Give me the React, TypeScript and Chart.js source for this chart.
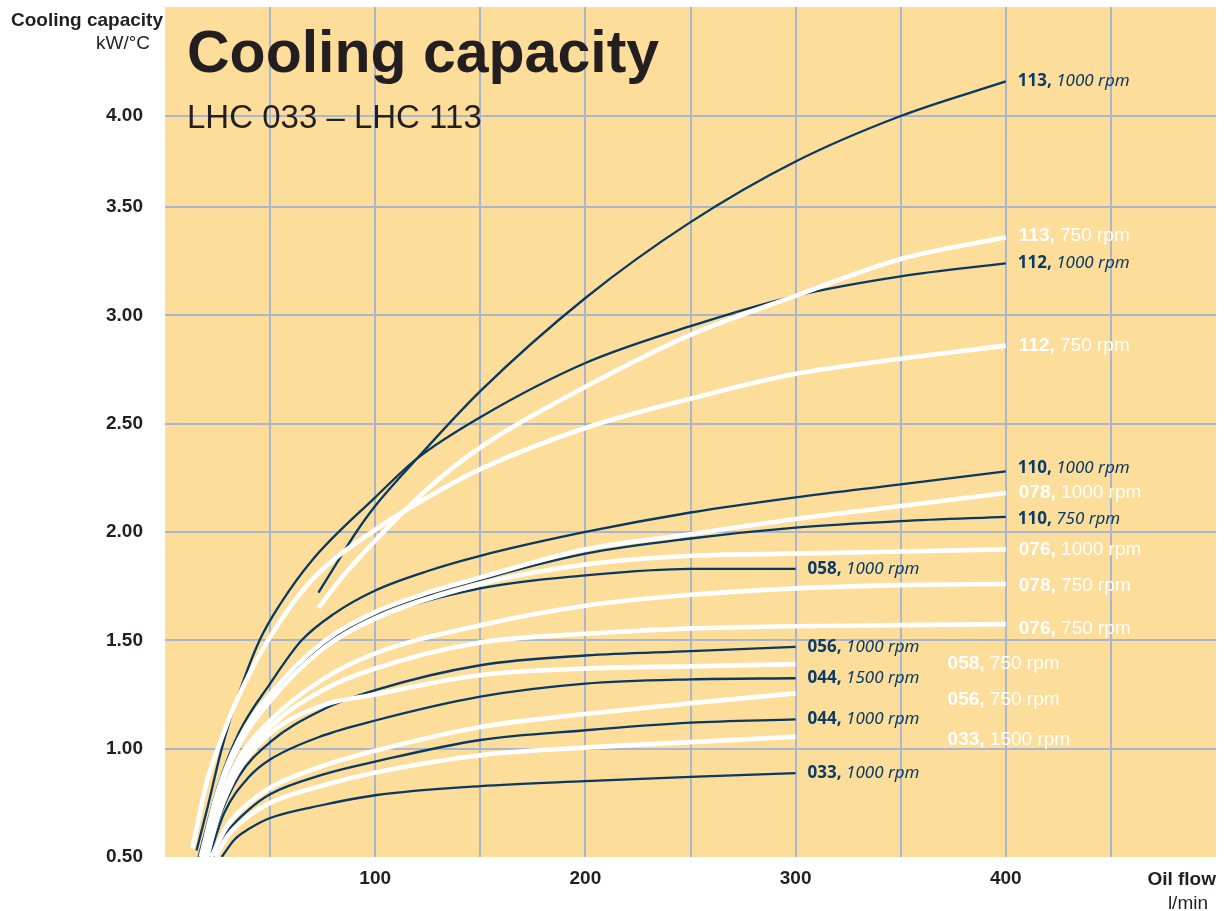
import React, { useEffect, useRef } from 'react';
import { Chart, registerables, LinearScale } from 'chart.js';

Chart.register(...registerables);

// ---- y axis: the reference compresses the band above 3.50 ----
const Y_BREAK = 3.5;
const Y_UPPER_SCALE = 0.84;
const warp = (v: number) => (v != null && v > Y_BREAK ? Y_BREAK + (v - Y_BREAK) * Y_UPPER_SCALE : v);
const unwarp = (v: number) => (v != null && v > Y_BREAK ? Y_BREAK + (v - Y_BREAK) / Y_UPPER_SCALE : v);

class WarpedLinearScale extends LinearScale {
  static id = 'warpedLinear';
  static defaults = {};
  getPixelForValue(value: number, index?: number) {
    return super.getPixelForValue(warp(value) as number, index as any);
  }
  getValueForPixel(pixel: number) {
    return unwarp(super.getValueForPixel(pixel) as number);
  }
}
Chart.register(WarpedLinearScale as any);

// ---- ticks ----
const xTickValues = [0, 50, 100, 150, 200, 250, 300, 350, 400, 450, 500];
const xTickLabels = ['', '', '100', '', '200', '', '300', '', '400', '', ''];
const yTickValues = [0.5, 1.0, 1.5, 2.0, 2.5, 3.0, 3.5, 4.0];
const yTickLabels = ['0.50', '1.00', '1.50', '2.00', '2.50', '3.00', '3.50', '4.00'];

// ---- series (oil flow l/min, cooling capacity kW/°C) ----
const flow113_1000 = [73, 80, 91, 100, 120, 150, 200, 250, 300, 350, 400];
const cap113_1000 = [1.72, 1.83, 2.0, 2.12, 2.34, 2.65, 3.08, 3.43, 3.75, 4.0, 4.19];

const flow113_750 = [73, 85, 100, 125, 150, 200, 250, 300, 350, 400];
const cap113_750 = [1.65, 1.8, 1.96, 2.2, 2.39, 2.67, 2.91, 3.09, 3.26, 3.36];

const flow112_1000 = [15, 20, 27, 35, 45, 55, 70, 100, 120, 150, 200, 250, 300, 350, 400];
const cap112_1000 = [0.53, 0.72, 1.0, 1.25, 1.5, 1.67, 1.87, 2.16, 2.34, 2.53, 2.78, 2.95, 3.09, 3.18, 3.24];

const flow112_750 = [13, 20, 27, 34, 49, 70, 100, 125, 150, 200, 250, 300, 350, 400];
const cap112_750 = [0.54, 0.85, 1.05, 1.22, 1.5, 1.78, 2.01, 2.16, 2.29, 2.48, 2.615, 2.73, 2.8, 2.86];

const flow110_1000 = [16, 25, 35, 50, 65, 80, 100, 125, 150, 200, 250, 300, 350, 400];
const cap110_1000 = [0.5, 0.82, 1.07, 1.3, 1.5, 1.62, 1.73, 1.82, 1.89, 2.0, 2.09, 2.16, 2.22, 2.28];

const flow078_1000 = [17, 25, 35, 50, 75, 100, 125, 150, 200, 250, 300, 350, 400];
const cap078_1000 = [0.5, 0.8, 1.04, 1.25, 1.49, 1.63, 1.72, 1.79, 1.92, 1.99, 2.06, 2.12, 2.18];

const flow110_750 = [18, 25, 35, 50, 75, 100, 125, 150, 200, 250, 300, 350, 400];
const cap110_750 = [0.5, 0.78, 1.02, 1.24, 1.48, 1.62, 1.71, 1.78, 1.9, 1.97, 2.02, 2.05, 2.07];

const flow076_1000 = [18, 25, 35, 50, 75, 100, 150, 200, 250, 300, 350, 400];
const cap076_1000 = [0.5, 0.77, 1.01, 1.22, 1.46, 1.6, 1.76, 1.85, 1.89, 1.9, 1.91, 1.92];

const flow058_1000 = [19, 25, 35, 50, 75, 100, 150, 200, 250, 300];
const cap058_1000 = [0.5, 0.75, 1.0, 1.22, 1.46, 1.6, 1.74, 1.8, 1.83, 1.83];

const flow078_750 = [19, 25, 35, 50, 75, 100, 150, 200, 250, 300, 350, 400];
const cap078_750 = [0.5, 0.72, 0.95, 1.13, 1.32, 1.44, 1.57, 1.66, 1.71, 1.74, 1.755, 1.76];

const flow076_750 = [20, 25, 35, 50, 75, 100, 150, 200, 250, 300, 350, 400];
const cap076_750 = [0.5, 0.7, 0.92, 1.1, 1.27, 1.37, 1.49, 1.53, 1.555, 1.565, 1.57, 1.575];

const flow056_1000 = [20, 25, 35, 50, 75, 100, 150, 200, 250, 300];
const cap056_1000 = [0.5, 0.66, 0.87, 1.03, 1.18, 1.27, 1.385, 1.43, 1.45, 1.47];

const flow058_750 = [20, 25, 35, 50, 75, 100, 150, 200, 250, 300];
const cap058_750 = [0.5, 0.68, 0.9, 1.07, 1.2, 1.25, 1.34, 1.37, 1.38, 1.39];

const flow044_1500 = [21, 28, 40, 50, 75, 100, 150, 200, 250, 300];
const cap044_1500 = [0.5, 0.7, 0.87, 0.95, 1.06, 1.13, 1.24, 1.3, 1.32, 1.325];

const flow056_750 = [22, 30, 40, 50, 75, 100, 150, 200, 250, 300];
const cap056_750 = [0.5, 0.65, 0.75, 0.82, 0.92, 0.99, 1.1, 1.16, 1.21, 1.255];

const flow044_1000 = [23, 30, 40, 50, 75, 100, 150, 200, 250, 300];
const cap044_1000 = [0.5, 0.62, 0.72, 0.79, 0.88, 0.94, 1.04, 1.085, 1.12, 1.135];

const flow033_1500 = [24, 30, 40, 50, 75, 100, 150, 200, 250, 300];
const cap033_1500 = [0.5, 0.6, 0.69, 0.75, 0.83, 0.89, 0.97, 1.005, 1.03, 1.055];

const flow033_1000 = [27, 33, 40, 50, 75, 100, 150, 200, 250, 300];
const cap033_1000 = [0.5, 0.58, 0.63, 0.68, 0.74, 0.785, 0.827, 0.85, 0.87, 0.887];

type Tone = 'navy' | 'white';
interface Series { model: string; rpm: string; tone: Tone; flow: number[]; cap: number[]; }

const series: Series[] = [
  { model: '113', rpm: '1000', tone: 'navy', flow: flow113_1000, cap: cap113_1000 },
  { model: '113', rpm: '750', tone: 'white', flow: flow113_750, cap: cap113_750 },
  { model: '112', rpm: '1000', tone: 'navy', flow: flow112_1000, cap: cap112_1000 },
  { model: '112', rpm: '750', tone: 'white', flow: flow112_750, cap: cap112_750 },
  { model: '110', rpm: '1000', tone: 'navy', flow: flow110_1000, cap: cap110_1000 },
  { model: '078', rpm: '1000', tone: 'white', flow: flow078_1000, cap: cap078_1000 },
  { model: '110', rpm: '750', tone: 'navy', flow: flow110_750, cap: cap110_750 },
  { model: '076', rpm: '1000', tone: 'white', flow: flow076_1000, cap: cap076_1000 },
  { model: '058', rpm: '1000', tone: 'navy', flow: flow058_1000, cap: cap058_1000 },
  { model: '078', rpm: '750', tone: 'white', flow: flow078_750, cap: cap078_750 },
  { model: '076', rpm: '750', tone: 'white', flow: flow076_750, cap: cap076_750 },
  { model: '056', rpm: '1000', tone: 'navy', flow: flow056_1000, cap: cap056_1000 },
  { model: '058', rpm: '750', tone: 'white', flow: flow058_750, cap: cap058_750 },
  { model: '044', rpm: '1500', tone: 'navy', flow: flow044_1500, cap: cap044_1500 },
  { model: '056', rpm: '750', tone: 'white', flow: flow056_750, cap: cap056_750 },
  { model: '044', rpm: '1000', tone: 'navy', flow: flow044_1000, cap: cap044_1000 },
  { model: '033', rpm: '1500', tone: 'white', flow: flow033_1500, cap: cap033_1500 },
  { model: '033', rpm: '1000', tone: 'navy', flow: flow033_1000, cap: cap033_1000 },
];

// ---- styling ----
const BG = '#FDDD9A';
const GRID = '#A9B6CE';
const NAVY = '#0A3860';
const NAVY_TEXT = '#0B3A66';
const INK = '#231F20';
const SANS = '"Liberation Sans", Arial, sans-serif';
const HUMAN = '"Noto Sans", "Open Sans", sans-serif';

// label placement nudges in pixels (gap from line end, vertical shift)
const labelGap = (s: Series, i: number) => {
  if (s.tone === 'white' && s.flow[s.flow.length - 1] === 300) return 152;
  return s.tone === 'white' ? 13 : 12;
};
const labelShift: Record<string, number> = {
  '110-1000': -3,
  '076-750': 5,
  '056-750': 6,
  '033-1500': 3,
  '078-750': 2,
  '110-750': 2,
  '113-750': -2,
};

const backgroundPlugin = {
  id: 'plotBackground',
  beforeDraw(chart: any) {
    const { ctx, chartArea } = chart;
    ctx.save();
    ctx.fillStyle = BG;
    ctx.fillRect(chartArea.left, chartArea.top, chartArea.right - chartArea.left, chartArea.bottom - chartArea.top);
    ctx.restore();
  },
};

const textPlugin = {
  id: 'chartTexts',
  afterDraw(chart: any) {
    const { ctx, chartArea } = chart;
    ctx.save();
    ctx.fillStyle = INK;
    ctx.textBaseline = 'alphabetic';
    ctx.textAlign = 'left';
    ctx.font = `bold 59px ${SANS}`;
    ctx.fillText('Cooling capacity', chartArea.left + 22, 72);
    ctx.font = `33px ${SANS}`;
    ctx.fillText('LHC 033 – LHC 113', chartArea.left + 22, 128);

    ctx.textAlign = 'right';
    ctx.font = `bold 19px ${SANS}`;
    ctx.fillText('Cooling capacity', chartArea.left - 2, 26);
    ctx.font = `19px ${SANS}`;
    ctx.fillText('kW/°C', chartArea.left - 15, 49);

    ctx.font = `bold 19px ${SANS}`;
    ctx.fillText('Oil flow', chartArea.right, 885);
    ctx.font = `19px ${SANS}`;
    ctx.fillText('l/min', chartArea.right - 8, 909);
    ctx.restore();

    // curve labels
    series.forEach((s, i) => {
      const meta = chart.getDatasetMeta(i);
      const pts = meta.data;
      if (!pts || !pts.length) return;
      const last = pts[pts.length - 1];
      const x = last.x + labelGap(s, i);
      const y = last.y + (labelShift[`${s.model}-${s.rpm}`] || 0);
      ctx.save();
      ctx.textAlign = 'left';
      ctx.textBaseline = 'middle';
      const head = s.model + ',';
      if (s.tone === 'navy') {
        ctx.fillStyle = NAVY_TEXT;
        ctx.font = `bold 17px ${HUMAN}`;
        ctx.fillText(head, x, y);
        const w = ctx.measureText(head).width;
        ctx.font = `italic 17px ${HUMAN}`;
        ctx.fillText(` ${s.rpm} rpm`, x + w, y);
      } else {
        ctx.fillStyle = '#FFFFFF';
        ctx.font = `bold 19px ${SANS}`;
        ctx.fillText(head, x, y);
        const w = ctx.measureText(head).width;
        ctx.font = `19px ${SANS}`;
        ctx.fillText(` ${s.rpm} rpm`, x + w, y);
      }
      ctx.restore();
    });
  },
};

export default function App() {
  const ref = useRef<HTMLCanvasElement | null>(null);

  useEffect(() => {
    if (!ref.current) return;
    const datasets = series.map((s) => ({
      label: `${s.model}, ${s.rpm} rpm`,
      data: s.flow.map((f, k) => ({ x: f, y: s.cap[k] })),
      borderColor: s.tone === 'navy' ? NAVY : '#FFFFFF',
      borderWidth: s.tone === 'navy' ? 2.3 : 4.6,
      pointRadius: 0,
      fill: false,
      cubicInterpolationMode: 'monotone' as const,
      borderCapStyle: 'butt' as const,
      order: s.tone === 'white' ? 0 : 1,
      clip: 0,
    }));

    const chart = new Chart(ref.current, {
      type: 'line',
      data: { datasets },
      options: {
        animation: false,
        responsive: false,
        devicePixelRatio: 1,
        events: [],
        layout: { padding: { top: 7, right: 8, left: 0, bottom: 0 } },
        plugins: { legend: { display: false }, tooltip: { enabled: false }, title: { display: false } },
        scales: {
          x: {
            type: 'linear',
            min: 0,
            max: 500,
            afterBuildTicks: (scale: any) => {
              scale.ticks = xTickValues.map((v) => ({ value: v }));
            },
            afterFit: (scale: any) => {
              scale.height = 54;
              scale.paddingLeft = 0;
              scale.paddingRight = 0;
            },
            border: { display: false },
            grid: {
              drawTicks: false,
              lineWidth: 2,
              color: (c: any) => (c.tick && (c.tick.value === 0 || c.tick.value === 500) ? 'rgba(0,0,0,0)' : GRID),
            },
            ticks: {
              padding: 10,
              autoSkip: false,
              maxRotation: 0,
              color: INK,
              font: { family: SANS, size: 19, weight: 'bold' },
              callback: (v: any) => {
                const k = xTickValues.indexOf(Number(v));
                return k >= 0 ? xTickLabels[k] : '';
              },
            },
          },
          y: {
            type: 'warpedLinear' as any,
            min: 0.5,
            max: 4.423,
            afterBuildTicks: (scale: any) => {
              scale.ticks = yTickValues.map((v) => ({ value: v }));
            },
            afterFit: (scale: any) => {
              scale.width = 165;
              scale.paddingTop = 0;
              scale.paddingBottom = 0;
            },
            border: { display: false },
            grid: {
              drawTicks: false,
              lineWidth: 2,
              color: (c: any) => (c.tick && c.tick.value === 0.5 ? 'rgba(0,0,0,0)' : GRID),
            },
            ticks: {
              padding: 22,
              autoSkip: false,
              color: INK,
              font: { family: SANS, size: 19, weight: 'bold' },
              callback: (v: any) => {
                const k = yTickValues.indexOf(Number(v));
                return k >= 0 ? yTickLabels[k] : '';
              },
            },
          },
        },
      } as any,
      plugins: [backgroundPlugin, textPlugin],
    });
    return () => chart.destroy();
  }, []);

  return (
    <div style={{ position: 'absolute', left: 0, top: 0, width: 1224, height: 911, background: '#fff' }}>
      <canvas ref={ref} width={1224} height={911} style={{ display: 'block' }} />
    </div>
  );
}
